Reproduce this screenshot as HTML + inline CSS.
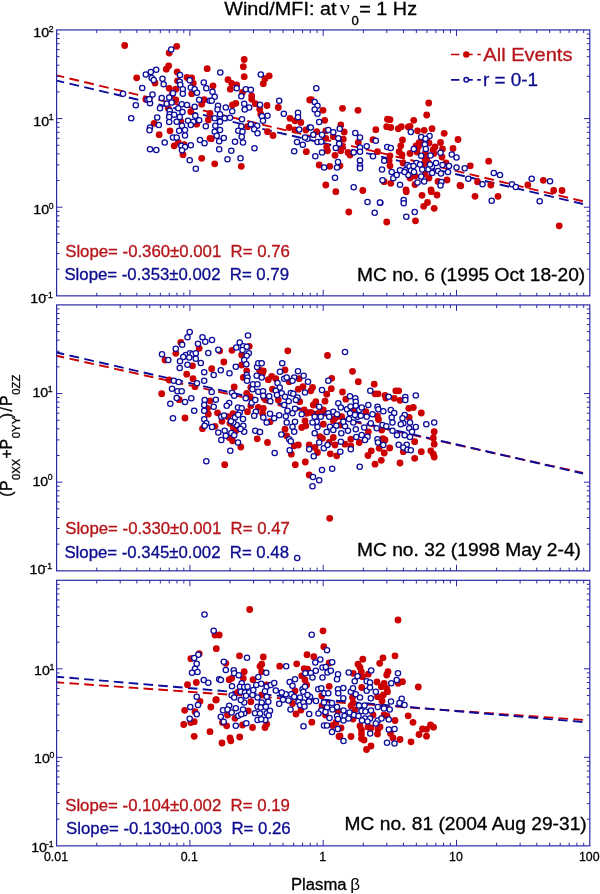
<!DOCTYPE html><html><head><meta charset="utf-8"><style>html,body{margin:0;padding:0;background:#fff}svg{display:block;will-change:transform}text{font-family:"Liberation Sans",sans-serif}</style></head><body>
<svg width="600" height="894" viewBox="0 0 600 894">
<rect width="600" height="894" fill="#fff"/>
<path d="M56.6 75.4L583 201.3" stroke="#cc0000" stroke-width="1.9" stroke-dasharray="9.8 5.44" stroke-dashoffset="2.06" fill="none"/>
<path d="M56.6 80.6L583 204.0" stroke="#0c0c9c" stroke-width="1.9" stroke-dasharray="9.8 5.44" stroke-dashoffset="2.06" fill="none"/>
<g fill="#cc0000"><circle cx="124.7" cy="45.5" r="3.4"/><circle cx="176.7" cy="46.3" r="3.4"/><circle cx="169.2" cy="53.0" r="3.4"/><circle cx="168.7" cy="65.8" r="3.4"/><circle cx="166.3" cy="69.2" r="3.4"/><circle cx="207.2" cy="68.7" r="3.4"/><circle cx="136.7" cy="77.8" r="3.4"/><circle cx="177.2" cy="72.0" r="3.4"/><circle cx="187.0" cy="77.5" r="3.4"/><circle cx="191.7" cy="78.0" r="3.4"/><circle cx="155.0" cy="83.0" r="3.4"/><circle cx="169.2" cy="88.3" r="3.4"/><circle cx="177.5" cy="80.8" r="3.4"/><circle cx="175.8" cy="89.2" r="3.4"/><circle cx="191.7" cy="93.7" r="3.4"/><circle cx="193.3" cy="83.3" r="3.4"/><circle cx="172.0" cy="95.0" r="3.4"/><circle cx="204.2" cy="99.7" r="3.4"/><circle cx="201.7" cy="104.2" r="3.4"/><circle cx="175.8" cy="100.0" r="3.4"/><circle cx="190.8" cy="111.7" r="3.4"/><circle cx="154.2" cy="123.3" r="3.4"/><circle cx="170.0" cy="130.8" r="3.4"/><circle cx="208.3" cy="120.0" r="3.4"/><circle cx="196.7" cy="124.2" r="3.4"/><circle cx="159.2" cy="134.7" r="3.4"/><circle cx="168.3" cy="108.3" r="3.4"/><circle cx="145.8" cy="99.2" r="3.4"/><circle cx="180.8" cy="121.7" r="3.4"/><circle cx="244.2" cy="59.5" r="3.4"/><circle cx="243.3" cy="66.7" r="3.4"/><circle cx="244.2" cy="76.7" r="3.4"/><circle cx="269.2" cy="75.8" r="3.4"/><circle cx="265.0" cy="78.7" r="3.4"/><circle cx="263.3" cy="83.7" r="3.4"/><circle cx="228.0" cy="79.7" r="3.4"/><circle cx="231.7" cy="83.3" r="3.4"/><circle cx="236.7" cy="85.0" r="3.4"/><circle cx="230.3" cy="89.2" r="3.4"/><circle cx="213.0" cy="85.8" r="3.4"/><circle cx="251.7" cy="95.8" r="3.4"/><circle cx="242.5" cy="92.5" r="3.4"/><circle cx="251.7" cy="99.2" r="3.4"/><circle cx="255.3" cy="103.7" r="3.4"/><circle cx="235.8" cy="103.3" r="3.4"/><circle cx="232.5" cy="105.0" r="3.4"/><circle cx="267.0" cy="105.5" r="3.4"/><circle cx="278.3" cy="107.5" r="3.4"/><circle cx="259.7" cy="109.2" r="3.4"/><circle cx="260.8" cy="114.2" r="3.4"/><circle cx="309.7" cy="100.0" r="3.4"/><circle cx="290.0" cy="118.3" r="3.4"/><circle cx="295.0" cy="120.8" r="3.4"/><circle cx="300.8" cy="122.5" r="3.4"/><circle cx="289.2" cy="127.5" r="3.4"/><circle cx="305.8" cy="130.0" r="3.4"/><circle cx="247.5" cy="126.7" r="3.4"/><circle cx="267.5" cy="131.7" r="3.4"/><circle cx="210.0" cy="113.3" r="3.4"/><circle cx="295.0" cy="130.0" r="3.4"/><circle cx="311.3" cy="99.7" r="3.4"/><circle cx="323.0" cy="110.3" r="3.4"/><circle cx="342.5" cy="108.3" r="3.4"/><circle cx="358.0" cy="110.3" r="3.4"/><circle cx="324.7" cy="120.3" r="3.4"/><circle cx="387.5" cy="119.2" r="3.4"/><circle cx="390.0" cy="119.7" r="3.4"/><circle cx="340.8" cy="125.0" r="3.4"/><circle cx="386.7" cy="126.7" r="3.4"/><circle cx="390.8" cy="127.5" r="3.4"/><circle cx="401.3" cy="126.7" r="3.4"/><circle cx="398.3" cy="128.7" r="3.4"/><circle cx="408.3" cy="127.0" r="3.4"/><circle cx="375.8" cy="129.7" r="3.4"/><circle cx="344.2" cy="132.0" r="3.4"/><circle cx="316.7" cy="131.7" r="3.4"/><circle cx="325.8" cy="130.8" r="3.4"/><circle cx="428.7" cy="103.0" r="3.4"/><circle cx="426.7" cy="115.0" r="3.4"/><circle cx="413.7" cy="120.3" r="3.4"/><circle cx="432.0" cy="128.7" r="3.4"/><circle cx="417.5" cy="130.8" r="3.4"/><circle cx="424.2" cy="130.3" r="3.4"/><circle cx="410.0" cy="126.3" r="3.4"/><circle cx="444.2" cy="133.3" r="3.4"/><circle cx="174.2" cy="145.8" r="3.4"/><circle cx="178.3" cy="142.5" r="3.4"/><circle cx="184.2" cy="144.7" r="3.4"/><circle cx="183.0" cy="154.7" r="3.4"/><circle cx="201.7" cy="158.3" r="3.4"/><circle cx="210.0" cy="138.3" r="3.4"/><circle cx="211.3" cy="138.7" r="3.4"/><circle cx="214.7" cy="163.8" r="3.4"/><circle cx="241.3" cy="166.3" r="3.4"/><circle cx="273.0" cy="135.5" r="3.4"/><circle cx="306.3" cy="151.7" r="3.4"/><circle cx="325.8" cy="138.3" r="3.4"/><circle cx="343.3" cy="139.2" r="3.4"/><circle cx="326.7" cy="147.0" r="3.4"/><circle cx="327.5" cy="150.8" r="3.4"/><circle cx="342.5" cy="147.0" r="3.4"/><circle cx="340.8" cy="150.8" r="3.4"/><circle cx="335.0" cy="155.3" r="3.4"/><circle cx="348.0" cy="152.5" r="3.4"/><circle cx="350.0" cy="155.0" r="3.4"/><circle cx="358.3" cy="142.5" r="3.4"/><circle cx="373.0" cy="139.7" r="3.4"/><circle cx="377.5" cy="151.7" r="3.4"/><circle cx="402.5" cy="140.0" r="3.4"/><circle cx="400.8" cy="145.8" r="3.4"/><circle cx="399.2" cy="151.7" r="3.4"/><circle cx="390.0" cy="155.8" r="3.4"/><circle cx="389.2" cy="160.8" r="3.4"/><circle cx="390.0" cy="165.8" r="3.4"/><circle cx="319.2" cy="165.0" r="3.4"/><circle cx="329.7" cy="166.3" r="3.4"/><circle cx="340.0" cy="165.8" r="3.4"/><circle cx="325.8" cy="185.0" r="3.4"/><circle cx="335.8" cy="191.7" r="3.4"/><circle cx="362.8" cy="190.5" r="3.4"/><circle cx="348.8" cy="212.0" r="3.4"/><circle cx="386.7" cy="222.0" r="3.4"/><circle cx="406.3" cy="191.7" r="3.4"/><circle cx="390.8" cy="183.3" r="3.4"/><circle cx="384.2" cy="181.7" r="3.4"/><circle cx="333.3" cy="136.7" r="3.4"/><circle cx="410.0" cy="153.5" r="3.4"/><circle cx="419.0" cy="143.0" r="3.4"/><circle cx="429.0" cy="143.0" r="3.4"/><circle cx="435.0" cy="147.0" r="3.4"/><circle cx="433.0" cy="150.0" r="3.4"/><circle cx="440.5" cy="142.5" r="3.4"/><circle cx="442.5" cy="149.0" r="3.4"/><circle cx="442.0" cy="157.0" r="3.4"/><circle cx="453.0" cy="148.5" r="3.4"/><circle cx="458.0" cy="139.5" r="3.4"/><circle cx="426.5" cy="160.0" r="3.4"/><circle cx="425.0" cy="174.0" r="3.4"/><circle cx="429.0" cy="178.0" r="3.4"/><circle cx="415.0" cy="176.0" r="3.4"/><circle cx="447.0" cy="180.0" r="3.4"/><circle cx="438.0" cy="181.5" r="3.4"/><circle cx="460.0" cy="185.5" r="3.4"/><circle cx="415.0" cy="184.5" r="3.4"/><circle cx="406.0" cy="190.0" r="3.4"/><circle cx="431.0" cy="190.0" r="3.4"/><circle cx="446.0" cy="163.0" r="3.4"/><circle cx="403.0" cy="163.0" r="3.4"/><circle cx="416.0" cy="146.0" r="3.4"/><circle cx="402.0" cy="155.0" r="3.4"/><circle cx="410.0" cy="178.0" r="3.4"/><circle cx="470.3" cy="165.8" r="3.4"/><circle cx="488.7" cy="161.2" r="3.4"/><circle cx="460.8" cy="185.8" r="3.4"/><circle cx="477.5" cy="181.7" r="3.4"/><circle cx="490.8" cy="185.0" r="3.4"/><circle cx="475.0" cy="196.3" r="3.4"/><circle cx="498.0" cy="196.3" r="3.4"/><circle cx="422.0" cy="195.3" r="3.4"/><circle cx="431.3" cy="191.7" r="3.4"/><circle cx="437.0" cy="195.0" r="3.4"/><circle cx="427.5" cy="202.5" r="3.4"/><circle cx="423.7" cy="206.3" r="3.4"/><circle cx="434.2" cy="208.3" r="3.4"/><circle cx="415.5" cy="220.8" r="3.4"/><circle cx="527.8" cy="185.0" r="3.4"/><circle cx="543.3" cy="180.3" r="3.4"/><circle cx="553.7" cy="190.5" r="3.4"/><circle cx="562.0" cy="190.5" r="3.4"/><circle cx="559.2" cy="225.8" r="3.4"/><circle cx="420.5" cy="142.0" r="3.4"/><circle cx="418.5" cy="146.5" r="3.4"/><circle cx="426.5" cy="140.0" r="3.4"/><circle cx="417.0" cy="152.0" r="3.4"/><circle cx="425.5" cy="153.0" r="3.4"/><circle cx="425.0" cy="159.0" r="3.4"/><circle cx="428.5" cy="163.0" r="3.4"/><circle cx="434.0" cy="153.5" r="3.4"/><circle cx="423.0" cy="164.5" r="3.4"/></g>
<g fill="#fff" stroke="#0c0c9c" stroke-width="1.3"><circle cx="171.2" cy="49.5" r="2.65"/><circle cx="156.2" cy="69.7" r="2.65"/><circle cx="150.8" cy="72.0" r="2.65"/><circle cx="145.8" cy="74.5" r="2.65"/><circle cx="151.7" cy="78.0" r="2.65"/><circle cx="153.7" cy="80.0" r="2.65"/><circle cx="162.5" cy="78.7" r="2.65"/><circle cx="163.7" cy="84.2" r="2.65"/><circle cx="180.0" cy="75.0" r="2.65"/><circle cx="179.7" cy="81.7" r="2.65"/><circle cx="180.3" cy="84.7" r="2.65"/><circle cx="189.7" cy="80.3" r="2.65"/><circle cx="203.8" cy="82.5" r="2.65"/><circle cx="206.3" cy="88.3" r="2.65"/><circle cx="142.2" cy="88.0" r="2.65"/><circle cx="190.8" cy="87.5" r="2.65"/><circle cx="194.7" cy="89.2" r="2.65"/><circle cx="197.0" cy="92.8" r="2.65"/><circle cx="182.8" cy="89.2" r="2.65"/><circle cx="182.8" cy="93.7" r="2.65"/><circle cx="123.0" cy="93.7" r="2.65"/><circle cx="152.5" cy="94.5" r="2.65"/><circle cx="173.0" cy="93.3" r="2.65"/><circle cx="169.2" cy="97.5" r="2.65"/><circle cx="161.7" cy="98.0" r="2.65"/><circle cx="147.5" cy="99.7" r="2.65"/><circle cx="150.0" cy="103.3" r="2.65"/><circle cx="166.7" cy="103.7" r="2.65"/><circle cx="171.7" cy="102.5" r="2.65"/><circle cx="199.2" cy="99.7" r="2.65"/><circle cx="209.7" cy="100.8" r="2.65"/><circle cx="135.8" cy="105.3" r="2.65"/><circle cx="181.7" cy="104.2" r="2.65"/><circle cx="187.0" cy="105.0" r="2.65"/><circle cx="160.0" cy="108.3" r="2.65"/><circle cx="194.7" cy="106.7" r="2.65"/><circle cx="178.3" cy="108.3" r="2.65"/><circle cx="182.5" cy="112.0" r="2.65"/><circle cx="169.7" cy="110.8" r="2.65"/><circle cx="169.7" cy="114.2" r="2.65"/><circle cx="174.2" cy="114.7" r="2.65"/><circle cx="157.2" cy="117.5" r="2.65"/><circle cx="131.2" cy="118.3" r="2.65"/><circle cx="169.2" cy="117.0" r="2.65"/><circle cx="179.7" cy="117.0" r="2.65"/><circle cx="195.3" cy="115.8" r="2.65"/><circle cx="188.0" cy="120.8" r="2.65"/><circle cx="176.7" cy="121.7" r="2.65"/><circle cx="169.2" cy="122.0" r="2.65"/><circle cx="199.2" cy="120.3" r="2.65"/><circle cx="193.3" cy="121.7" r="2.65"/><circle cx="158.8" cy="125.0" r="2.65"/><circle cx="150.0" cy="127.5" r="2.65"/><circle cx="149.5" cy="130.3" r="2.65"/><circle cx="182.0" cy="125.8" r="2.65"/><circle cx="179.2" cy="130.8" r="2.65"/><circle cx="190.8" cy="125.0" r="2.65"/><circle cx="185.0" cy="130.0" r="2.65"/><circle cx="205.8" cy="126.3" r="2.65"/><circle cx="220.3" cy="72.5" r="2.65"/><circle cx="260.8" cy="74.5" r="2.65"/><circle cx="236.7" cy="88.3" r="2.65"/><circle cx="245.8" cy="89.2" r="2.65"/><circle cx="250.8" cy="89.7" r="2.65"/><circle cx="212.5" cy="91.7" r="2.65"/><circle cx="214.7" cy="96.7" r="2.65"/><circle cx="241.3" cy="96.3" r="2.65"/><circle cx="211.7" cy="100.8" r="2.65"/><circle cx="279.2" cy="100.8" r="2.65"/><circle cx="244.2" cy="103.7" r="2.65"/><circle cx="260.0" cy="104.7" r="2.65"/><circle cx="218.0" cy="105.8" r="2.65"/><circle cx="225.8" cy="107.5" r="2.65"/><circle cx="217.5" cy="109.5" r="2.65"/><circle cx="249.2" cy="107.5" r="2.65"/><circle cx="244.7" cy="109.5" r="2.65"/><circle cx="232.2" cy="111.3" r="2.65"/><circle cx="220.0" cy="114.2" r="2.65"/><circle cx="283.8" cy="113.7" r="2.65"/><circle cx="298.0" cy="112.8" r="2.65"/><circle cx="267.5" cy="115.8" r="2.65"/><circle cx="262.0" cy="116.2" r="2.65"/><circle cx="298.0" cy="117.2" r="2.65"/><circle cx="214.7" cy="118.3" r="2.65"/><circle cx="224.7" cy="118.3" r="2.65"/><circle cx="230.0" cy="117.8" r="2.65"/><circle cx="242.0" cy="119.2" r="2.65"/><circle cx="263.0" cy="120.8" r="2.65"/><circle cx="220.0" cy="121.7" r="2.65"/><circle cx="250.8" cy="124.2" r="2.65"/><circle cx="257.2" cy="125.8" r="2.65"/><circle cx="215.3" cy="125.8" r="2.65"/><circle cx="241.3" cy="126.3" r="2.65"/><circle cx="309.7" cy="127.5" r="2.65"/><circle cx="220.0" cy="130.0" r="2.65"/><circle cx="238.3" cy="130.8" r="2.65"/><circle cx="242.5" cy="131.7" r="2.65"/><circle cx="254.2" cy="129.2" r="2.65"/><circle cx="299.2" cy="129.5" r="2.65"/><circle cx="214.7" cy="131.7" r="2.65"/><circle cx="257.5" cy="133.3" r="2.65"/><circle cx="316.3" cy="88.3" r="2.65"/><circle cx="314.7" cy="102.0" r="2.65"/><circle cx="317.5" cy="105.8" r="2.65"/><circle cx="314.7" cy="109.5" r="2.65"/><circle cx="317.5" cy="113.8" r="2.65"/><circle cx="319.2" cy="122.0" r="2.65"/><circle cx="310.8" cy="127.5" r="2.65"/><circle cx="328.3" cy="130.0" r="2.65"/><circle cx="333.3" cy="132.2" r="2.65"/><circle cx="339.7" cy="128.7" r="2.65"/><circle cx="355.3" cy="133.0" r="2.65"/><circle cx="313.3" cy="134.7" r="2.65"/><circle cx="322.0" cy="134.7" r="2.65"/><circle cx="410.8" cy="132.0" r="2.65"/><circle cx="173.0" cy="137.5" r="2.65"/><circle cx="176.7" cy="137.5" r="2.65"/><circle cx="185.0" cy="135.5" r="2.65"/><circle cx="164.7" cy="142.5" r="2.65"/><circle cx="150.0" cy="149.2" r="2.65"/><circle cx="156.3" cy="150.0" r="2.65"/><circle cx="181.3" cy="145.8" r="2.65"/><circle cx="185.0" cy="147.0" r="2.65"/><circle cx="182.0" cy="150.3" r="2.65"/><circle cx="190.8" cy="145.3" r="2.65"/><circle cx="200.0" cy="140.0" r="2.65"/><circle cx="204.5" cy="143.3" r="2.65"/><circle cx="189.7" cy="160.3" r="2.65"/><circle cx="195.8" cy="168.7" r="2.65"/><circle cx="216.7" cy="135.8" r="2.65"/><circle cx="223.8" cy="138.0" r="2.65"/><circle cx="219.2" cy="141.3" r="2.65"/><circle cx="219.2" cy="149.2" r="2.65"/><circle cx="235.0" cy="141.7" r="2.65"/><circle cx="241.7" cy="136.7" r="2.65"/><circle cx="243.0" cy="142.5" r="2.65"/><circle cx="231.3" cy="150.8" r="2.65"/><circle cx="227.5" cy="159.2" r="2.65"/><circle cx="240.5" cy="158.3" r="2.65"/><circle cx="254.5" cy="148.3" r="2.65"/><circle cx="294.2" cy="151.2" r="2.65"/><circle cx="297.0" cy="142.0" r="2.65"/><circle cx="302.8" cy="144.7" r="2.65"/><circle cx="307.5" cy="138.7" r="2.65"/><circle cx="305.0" cy="137.5" r="2.65"/><circle cx="317.5" cy="142.0" r="2.65"/><circle cx="321.3" cy="141.7" r="2.65"/><circle cx="338.3" cy="138.3" r="2.65"/><circle cx="339.2" cy="143.7" r="2.65"/><circle cx="335.8" cy="148.0" r="2.65"/><circle cx="322.0" cy="152.5" r="2.65"/><circle cx="315.3" cy="156.3" r="2.65"/><circle cx="360.0" cy="137.5" r="2.65"/><circle cx="366.7" cy="146.3" r="2.65"/><circle cx="360.0" cy="147.5" r="2.65"/><circle cx="353.7" cy="152.5" r="2.65"/><circle cx="360.0" cy="151.7" r="2.65"/><circle cx="373.0" cy="156.3" r="2.65"/><circle cx="375.8" cy="140.8" r="2.65"/><circle cx="387.2" cy="147.0" r="2.65"/><circle cx="390.8" cy="148.0" r="2.65"/><circle cx="338.0" cy="162.0" r="2.65"/><circle cx="337.0" cy="167.5" r="2.65"/><circle cx="324.2" cy="167.5" r="2.65"/><circle cx="360.0" cy="160.5" r="2.65"/><circle cx="360.0" cy="165.8" r="2.65"/><circle cx="360.0" cy="168.3" r="2.65"/><circle cx="384.2" cy="160.8" r="2.65"/><circle cx="382.0" cy="169.5" r="2.65"/><circle cx="335.0" cy="177.8" r="2.65"/><circle cx="353.7" cy="187.2" r="2.65"/><circle cx="367.5" cy="202.0" r="2.65"/><circle cx="380.3" cy="202.8" r="2.65"/><circle cx="374.7" cy="212.8" r="2.65"/><circle cx="382.5" cy="180.3" r="2.65"/><circle cx="391.7" cy="172.0" r="2.65"/><circle cx="393.3" cy="178.3" r="2.65"/><circle cx="396.7" cy="175.0" r="2.65"/><circle cx="400.0" cy="170.3" r="2.65"/><circle cx="400.0" cy="184.7" r="2.65"/><circle cx="405.8" cy="170.0" r="2.65"/><circle cx="407.5" cy="165.0" r="2.65"/><circle cx="408.3" cy="175.0" r="2.65"/><circle cx="403.7" cy="200.0" r="2.65"/><circle cx="403.7" cy="203.3" r="2.65"/><circle cx="406.3" cy="216.7" r="2.65"/><circle cx="421.2" cy="137.0" r="2.65"/><circle cx="429.5" cy="136.0" r="2.65"/><circle cx="424.8" cy="144.5" r="2.65"/><circle cx="425.8" cy="149.0" r="2.65"/><circle cx="413.8" cy="149.0" r="2.65"/><circle cx="421.2" cy="155.7" r="2.65"/><circle cx="430.5" cy="155.5" r="2.65"/><circle cx="440.5" cy="152.8" r="2.65"/><circle cx="451.8" cy="154.5" r="2.65"/><circle cx="456.5" cy="157.5" r="2.65"/><circle cx="416.5" cy="163.0" r="2.65"/><circle cx="409.5" cy="166.5" r="2.65"/><circle cx="411.0" cy="170.5" r="2.65"/><circle cx="414.0" cy="172.0" r="2.65"/><circle cx="422.2" cy="169.5" r="2.65"/><circle cx="428.5" cy="169.3" r="2.65"/><circle cx="432.0" cy="166.5" r="2.65"/><circle cx="436.0" cy="163.0" r="2.65"/><circle cx="442.5" cy="165.0" r="2.65"/><circle cx="449.0" cy="166.0" r="2.65"/><circle cx="438.0" cy="171.0" r="2.65"/><circle cx="432.2" cy="173.0" r="2.65"/><circle cx="441.0" cy="173.5" r="2.65"/><circle cx="448.0" cy="172.0" r="2.65"/><circle cx="421.2" cy="176.5" r="2.65"/><circle cx="417.5" cy="182.5" r="2.65"/><circle cx="424.2" cy="181.5" r="2.65"/><circle cx="441.5" cy="182.0" r="2.65"/><circle cx="440.5" cy="185.5" r="2.65"/><circle cx="456.5" cy="167.5" r="2.65"/><circle cx="420.0" cy="164.5" r="2.65"/><circle cx="464.7" cy="168.3" r="2.65"/><circle cx="468.3" cy="178.7" r="2.65"/><circle cx="482.5" cy="184.2" r="2.65"/><circle cx="493.8" cy="173.0" r="2.65"/><circle cx="500.0" cy="175.0" r="2.65"/><circle cx="491.7" cy="200.8" r="2.65"/><circle cx="414.7" cy="212.0" r="2.65"/><circle cx="512.0" cy="184.2" r="2.65"/><circle cx="515.8" cy="187.0" r="2.65"/><circle cx="531.7" cy="178.8" r="2.65"/><circle cx="550.0" cy="181.3" r="2.65"/><circle cx="539.7" cy="201.2" r="2.65"/><circle cx="149.3" cy="99.3" r="2.65"/><circle cx="425.5" cy="138.8" r="2.65"/><circle cx="430.0" cy="164.5" r="2.65"/><circle cx="404.5" cy="172.0" r="2.65"/><circle cx="413.5" cy="166.0" r="2.65"/><circle cx="380.0" cy="202.5" r="2.65"/></g>
<path d="M56.6 355.8L583 472.9" stroke="#cc0000" stroke-width="1.9" stroke-dasharray="9.8 5.44" stroke-dashoffset="2.06" fill="none"/>
<path d="M56.6 352.5L583 473.5" stroke="#0c0c9c" stroke-width="1.9" stroke-dasharray="9.8 5.44" stroke-dashoffset="2.06" fill="none"/>
<g fill="#cc0000"><circle cx="180.8" cy="342.5" r="3.4"/><circle cx="199.2" cy="348.3" r="3.4"/><circle cx="175.8" cy="353.3" r="3.4"/><circle cx="165.0" cy="360.0" r="3.4"/><circle cx="219.7" cy="350.8" r="3.4"/><circle cx="232.0" cy="350.3" r="3.4"/><circle cx="249.2" cy="346.3" r="3.4"/><circle cx="241.7" cy="355.0" r="3.4"/><circle cx="223.8" cy="362.0" r="3.4"/><circle cx="192.5" cy="365.8" r="3.4"/><circle cx="211.7" cy="368.7" r="3.4"/><circle cx="186.7" cy="374.2" r="3.4"/><circle cx="193.0" cy="378.7" r="3.4"/><circle cx="169.2" cy="380.0" r="3.4"/><circle cx="195.0" cy="386.7" r="3.4"/><circle cx="234.2" cy="387.0" r="3.4"/><circle cx="161.7" cy="393.7" r="3.4"/><circle cx="210.0" cy="400.8" r="3.4"/><circle cx="179.2" cy="399.7" r="3.4"/><circle cx="207.5" cy="408.3" r="3.4"/><circle cx="208.3" cy="414.2" r="3.4"/><circle cx="217.5" cy="412.8" r="3.4"/><circle cx="185.0" cy="418.0" r="3.4"/><circle cx="247.5" cy="411.7" r="3.4"/><circle cx="250.8" cy="405.8" r="3.4"/><circle cx="258.3" cy="407.5" r="3.4"/><circle cx="246.7" cy="393.3" r="3.4"/><circle cx="250.0" cy="396.7" r="3.4"/><circle cx="243.3" cy="377.5" r="3.4"/><circle cx="246.7" cy="370.8" r="3.4"/><circle cx="241.7" cy="365.0" r="3.4"/><circle cx="228.0" cy="416.7" r="3.4"/><circle cx="233.0" cy="413.7" r="3.4"/><circle cx="259.5" cy="370.0" r="3.4"/><circle cx="250.8" cy="387.5" r="3.4"/><circle cx="287.8" cy="350.8" r="3.4"/><circle cx="327.5" cy="355.5" r="3.4"/><circle cx="352.5" cy="371.3" r="3.4"/><circle cx="358.3" cy="381.7" r="3.4"/><circle cx="285.0" cy="370.0" r="3.4"/><circle cx="263.3" cy="370.8" r="3.4"/><circle cx="262.5" cy="373.3" r="3.4"/><circle cx="271.7" cy="376.3" r="3.4"/><circle cx="268.3" cy="379.7" r="3.4"/><circle cx="275.8" cy="378.7" r="3.4"/><circle cx="299.2" cy="378.7" r="3.4"/><circle cx="289.2" cy="381.7" r="3.4"/><circle cx="331.7" cy="378.3" r="3.4"/><circle cx="303.0" cy="386.7" r="3.4"/><circle cx="298.3" cy="389.2" r="3.4"/><circle cx="272.5" cy="389.2" r="3.4"/><circle cx="312.5" cy="387.5" r="3.4"/><circle cx="310.8" cy="390.8" r="3.4"/><circle cx="331.3" cy="388.7" r="3.4"/><circle cx="326.7" cy="394.2" r="3.4"/><circle cx="342.5" cy="392.0" r="3.4"/><circle cx="325.0" cy="401.2" r="3.4"/><circle cx="315.8" cy="401.7" r="3.4"/><circle cx="313.3" cy="405.0" r="3.4"/><circle cx="345.8" cy="399.2" r="3.4"/><circle cx="264.2" cy="398.3" r="3.4"/><circle cx="278.3" cy="400.0" r="3.4"/><circle cx="299.7" cy="401.7" r="3.4"/><circle cx="263.3" cy="408.3" r="3.4"/><circle cx="262.5" cy="413.3" r="3.4"/><circle cx="304.2" cy="410.0" r="3.4"/><circle cx="306.7" cy="413.3" r="3.4"/><circle cx="310.8" cy="412.5" r="3.4"/><circle cx="318.3" cy="413.3" r="3.4"/><circle cx="323.3" cy="410.0" r="3.4"/><circle cx="341.7" cy="416.7" r="3.4"/><circle cx="352.5" cy="410.8" r="3.4"/><circle cx="335.0" cy="418.3" r="3.4"/><circle cx="374.2" cy="384.2" r="3.4"/><circle cx="395.8" cy="390.8" r="3.4"/><circle cx="398.7" cy="390.8" r="3.4"/><circle cx="375.0" cy="393.8" r="3.4"/><circle cx="378.0" cy="393.8" r="3.4"/><circle cx="385.0" cy="395.3" r="3.4"/><circle cx="385.8" cy="398.0" r="3.4"/><circle cx="394.2" cy="398.3" r="3.4"/><circle cx="400.0" cy="400.3" r="3.4"/><circle cx="408.8" cy="408.3" r="3.4"/><circle cx="413.3" cy="407.5" r="3.4"/><circle cx="421.3" cy="413.0" r="3.4"/><circle cx="365.8" cy="411.7" r="3.4"/><circle cx="377.5" cy="415.8" r="3.4"/><circle cx="409.2" cy="417.5" r="3.4"/><circle cx="202.5" cy="428.7" r="3.4"/><circle cx="215.0" cy="426.3" r="3.4"/><circle cx="222.0" cy="421.3" r="3.4"/><circle cx="230.0" cy="423.3" r="3.4"/><circle cx="233.3" cy="427.5" r="3.4"/><circle cx="235.8" cy="430.8" r="3.4"/><circle cx="229.2" cy="437.5" r="3.4"/><circle cx="232.5" cy="440.8" r="3.4"/><circle cx="240.8" cy="447.0" r="3.4"/><circle cx="257.2" cy="438.8" r="3.4"/><circle cx="224.7" cy="464.7" r="3.4"/><circle cx="267.5" cy="442.5" r="3.4"/><circle cx="285.0" cy="429.2" r="3.4"/><circle cx="286.7" cy="435.8" r="3.4"/><circle cx="301.7" cy="427.5" r="3.4"/><circle cx="305.8" cy="425.8" r="3.4"/><circle cx="294.2" cy="445.8" r="3.4"/><circle cx="298.3" cy="445.0" r="3.4"/><circle cx="291.3" cy="454.2" r="3.4"/><circle cx="295.3" cy="464.7" r="3.4"/><circle cx="305.3" cy="462.0" r="3.4"/><circle cx="309.2" cy="445.0" r="3.4"/><circle cx="315.0" cy="447.5" r="3.4"/><circle cx="317.5" cy="452.5" r="3.4"/><circle cx="320.0" cy="436.7" r="3.4"/><circle cx="322.5" cy="438.3" r="3.4"/><circle cx="333.3" cy="437.5" r="3.4"/><circle cx="329.2" cy="442.5" r="3.4"/><circle cx="335.0" cy="445.0" r="3.4"/><circle cx="330.3" cy="453.8" r="3.4"/><circle cx="336.7" cy="455.8" r="3.4"/><circle cx="345.0" cy="444.2" r="3.4"/><circle cx="350.8" cy="439.2" r="3.4"/><circle cx="350.8" cy="445.8" r="3.4"/><circle cx="359.2" cy="442.5" r="3.4"/><circle cx="309.2" cy="475.0" r="3.4"/><circle cx="329.7" cy="518.3" r="3.4"/><circle cx="323.3" cy="424.2" r="3.4"/><circle cx="333.3" cy="420.8" r="3.4"/><circle cx="270.0" cy="421.7" r="3.4"/><circle cx="305.0" cy="420.8" r="3.4"/><circle cx="368.3" cy="432.0" r="3.4"/><circle cx="381.7" cy="430.0" r="3.4"/><circle cx="383.0" cy="438.7" r="3.4"/><circle cx="385.0" cy="440.0" r="3.4"/><circle cx="389.7" cy="448.0" r="3.4"/><circle cx="379.2" cy="448.3" r="3.4"/><circle cx="384.2" cy="453.0" r="3.4"/><circle cx="371.3" cy="450.8" r="3.4"/><circle cx="368.0" cy="455.5" r="3.4"/><circle cx="381.3" cy="460.3" r="3.4"/><circle cx="375.0" cy="464.2" r="3.4"/><circle cx="400.0" cy="463.0" r="3.4"/><circle cx="403.3" cy="451.7" r="3.4"/><circle cx="414.7" cy="441.7" r="3.4"/><circle cx="414.7" cy="458.3" r="3.4"/><circle cx="421.3" cy="451.7" r="3.4"/><circle cx="434.2" cy="431.7" r="3.4"/><circle cx="433.3" cy="438.0" r="3.4"/><circle cx="434.2" cy="444.2" r="3.4"/><circle cx="430.8" cy="450.8" r="3.4"/><circle cx="433.3" cy="454.2" r="3.4"/><circle cx="434.2" cy="457.0" r="3.4"/><circle cx="378.5" cy="419.5" r="3.4"/><circle cx="356.5" cy="411.0" r="3.4"/><circle cx="340.5" cy="425.0" r="3.4"/></g>
<g fill="#fff" stroke="#0c0c9c" stroke-width="1.3"><circle cx="189.7" cy="332.0" r="2.65"/><circle cx="187.5" cy="337.2" r="2.65"/><circle cx="202.5" cy="337.2" r="2.65"/><circle cx="205.3" cy="341.7" r="2.65"/><circle cx="212.0" cy="340.0" r="2.65"/><circle cx="198.0" cy="343.8" r="2.65"/><circle cx="182.2" cy="344.7" r="2.65"/><circle cx="175.8" cy="348.7" r="2.65"/><circle cx="162.0" cy="354.2" r="2.65"/><circle cx="168.3" cy="360.0" r="2.65"/><circle cx="208.3" cy="353.0" r="2.65"/><circle cx="218.3" cy="349.7" r="2.65"/><circle cx="185.8" cy="355.0" r="2.65"/><circle cx="190.0" cy="353.3" r="2.65"/><circle cx="192.5" cy="354.2" r="2.65"/><circle cx="195.8" cy="353.3" r="2.65"/><circle cx="183.3" cy="357.0" r="2.65"/><circle cx="189.2" cy="357.5" r="2.65"/><circle cx="195.8" cy="358.7" r="2.65"/><circle cx="180.0" cy="361.3" r="2.65"/><circle cx="187.5" cy="364.7" r="2.65"/><circle cx="200.8" cy="363.0" r="2.65"/><circle cx="179.7" cy="368.0" r="2.65"/><circle cx="204.2" cy="372.2" r="2.65"/><circle cx="213.7" cy="375.0" r="2.65"/><circle cx="220.8" cy="370.3" r="2.65"/><circle cx="229.5" cy="373.3" r="2.65"/><circle cx="235.8" cy="366.7" r="2.65"/><circle cx="173.8" cy="380.8" r="2.65"/><circle cx="178.7" cy="382.0" r="2.65"/><circle cx="204.2" cy="380.8" r="2.65"/><circle cx="197.0" cy="383.3" r="2.65"/><circle cx="172.0" cy="388.8" r="2.65"/><circle cx="177.5" cy="391.3" r="2.65"/><circle cx="181.7" cy="391.3" r="2.65"/><circle cx="211.7" cy="392.0" r="2.65"/><circle cx="176.7" cy="398.0" r="2.65"/><circle cx="191.3" cy="398.3" r="2.65"/><circle cx="185.0" cy="402.0" r="2.65"/><circle cx="170.3" cy="403.8" r="2.65"/><circle cx="204.7" cy="400.0" r="2.65"/><circle cx="215.8" cy="399.7" r="2.65"/><circle cx="204.2" cy="405.0" r="2.65"/><circle cx="213.7" cy="406.7" r="2.65"/><circle cx="194.2" cy="410.8" r="2.65"/><circle cx="204.2" cy="410.8" r="2.65"/><circle cx="173.0" cy="418.3" r="2.65"/><circle cx="248.0" cy="335.5" r="2.65"/><circle cx="239.7" cy="342.5" r="2.65"/><circle cx="236.3" cy="347.5" r="2.65"/><circle cx="243.3" cy="346.3" r="2.65"/><circle cx="246.7" cy="346.7" r="2.65"/><circle cx="242.5" cy="350.0" r="2.65"/><circle cx="248.8" cy="353.3" r="2.65"/><circle cx="246.7" cy="355.8" r="2.65"/><circle cx="244.2" cy="360.0" r="2.65"/><circle cx="246.3" cy="364.2" r="2.65"/><circle cx="257.0" cy="367.0" r="2.65"/><circle cx="258.3" cy="363.3" r="2.65"/><circle cx="246.7" cy="375.0" r="2.65"/><circle cx="247.5" cy="377.5" r="2.65"/><circle cx="247.0" cy="380.8" r="2.65"/><circle cx="256.7" cy="375.8" r="2.65"/><circle cx="253.0" cy="384.2" r="2.65"/><circle cx="257.5" cy="384.2" r="2.65"/><circle cx="252.5" cy="389.2" r="2.65"/><circle cx="258.3" cy="391.7" r="2.65"/><circle cx="232.0" cy="392.8" r="2.65"/><circle cx="234.2" cy="395.8" r="2.65"/><circle cx="245.8" cy="398.3" r="2.65"/><circle cx="251.7" cy="402.8" r="2.65"/><circle cx="255.3" cy="400.0" r="2.65"/><circle cx="229.2" cy="403.0" r="2.65"/><circle cx="226.7" cy="405.8" r="2.65"/><circle cx="238.0" cy="407.5" r="2.65"/><circle cx="241.7" cy="408.3" r="2.65"/><circle cx="239.7" cy="412.5" r="2.65"/><circle cx="235.0" cy="417.5" r="2.65"/><circle cx="255.8" cy="411.7" r="2.65"/><circle cx="254.2" cy="415.8" r="2.65"/><circle cx="221.3" cy="416.7" r="2.65"/><circle cx="204.2" cy="419.2" r="2.65"/><circle cx="345.0" cy="352.0" r="2.65"/><circle cx="261.7" cy="363.3" r="2.65"/><circle cx="282.2" cy="363.3" r="2.65"/><circle cx="280.0" cy="371.7" r="2.65"/><circle cx="298.0" cy="371.3" r="2.65"/><circle cx="261.7" cy="377.5" r="2.65"/><circle cx="284.2" cy="378.7" r="2.65"/><circle cx="286.7" cy="377.5" r="2.65"/><circle cx="294.2" cy="377.5" r="2.65"/><circle cx="292.5" cy="380.8" r="2.65"/><circle cx="303.7" cy="375.8" r="2.65"/><circle cx="308.0" cy="381.7" r="2.65"/><circle cx="277.5" cy="383.0" r="2.65"/><circle cx="279.7" cy="387.5" r="2.65"/><circle cx="328.3" cy="380.8" r="2.65"/><circle cx="322.0" cy="390.0" r="2.65"/><circle cx="263.0" cy="391.3" r="2.65"/><circle cx="275.8" cy="390.8" r="2.65"/><circle cx="281.7" cy="393.3" r="2.65"/><circle cx="290.8" cy="393.0" r="2.65"/><circle cx="293.3" cy="393.7" r="2.65"/><circle cx="305.0" cy="392.5" r="2.65"/><circle cx="297.5" cy="397.5" r="2.65"/><circle cx="269.2" cy="396.3" r="2.65"/><circle cx="263.3" cy="395.8" r="2.65"/><circle cx="285.0" cy="396.7" r="2.65"/><circle cx="277.0" cy="395.0" r="2.65"/><circle cx="270.3" cy="401.2" r="2.65"/><circle cx="288.7" cy="401.2" r="2.65"/><circle cx="284.2" cy="405.0" r="2.65"/><circle cx="295.8" cy="400.0" r="2.65"/><circle cx="319.2" cy="406.7" r="2.65"/><circle cx="350.0" cy="396.3" r="2.65"/><circle cx="355.3" cy="398.3" r="2.65"/><circle cx="355.8" cy="401.7" r="2.65"/><circle cx="338.3" cy="403.3" r="2.65"/><circle cx="340.8" cy="407.5" r="2.65"/><circle cx="347.0" cy="409.2" r="2.65"/><circle cx="355.8" cy="405.8" r="2.65"/><circle cx="350.0" cy="413.3" r="2.65"/><circle cx="359.2" cy="410.0" r="2.65"/><circle cx="333.3" cy="411.7" r="2.65"/><circle cx="328.3" cy="413.3" r="2.65"/><circle cx="337.0" cy="414.2" r="2.65"/><circle cx="329.2" cy="416.7" r="2.65"/><circle cx="320.8" cy="416.7" r="2.65"/><circle cx="314.7" cy="416.7" r="2.65"/><circle cx="295.0" cy="408.7" r="2.65"/><circle cx="287.5" cy="410.8" r="2.65"/><circle cx="292.5" cy="413.3" r="2.65"/><circle cx="301.7" cy="414.2" r="2.65"/><circle cx="285.8" cy="416.3" r="2.65"/><circle cx="279.2" cy="415.3" r="2.65"/><circle cx="270.0" cy="413.7" r="2.65"/><circle cx="274.2" cy="418.3" r="2.65"/><circle cx="263.3" cy="417.5" r="2.65"/><circle cx="357.5" cy="416.7" r="2.65"/><circle cx="370.3" cy="390.8" r="2.65"/><circle cx="388.7" cy="396.7" r="2.65"/><circle cx="405.3" cy="397.0" r="2.65"/><circle cx="405.3" cy="400.0" r="2.65"/><circle cx="415.8" cy="395.5" r="2.65"/><circle cx="368.3" cy="405.0" r="2.65"/><circle cx="361.7" cy="407.5" r="2.65"/><circle cx="377.5" cy="406.7" r="2.65"/><circle cx="378.3" cy="409.2" r="2.65"/><circle cx="383.3" cy="411.3" r="2.65"/><circle cx="390.8" cy="410.0" r="2.65"/><circle cx="394.2" cy="413.0" r="2.65"/><circle cx="372.5" cy="414.2" r="2.65"/><circle cx="366.7" cy="416.7" r="2.65"/><circle cx="360.8" cy="415.8" r="2.65"/><circle cx="391.7" cy="417.5" r="2.65"/><circle cx="404.7" cy="415.0" r="2.65"/><circle cx="402.5" cy="418.3" r="2.65"/><circle cx="206.3" cy="423.3" r="2.65"/><circle cx="204.7" cy="425.8" r="2.65"/><circle cx="212.0" cy="427.0" r="2.65"/><circle cx="218.3" cy="432.5" r="2.65"/><circle cx="224.7" cy="430.8" r="2.65"/><circle cx="225.8" cy="435.8" r="2.65"/><circle cx="221.3" cy="440.0" r="2.65"/><circle cx="231.3" cy="433.0" r="2.65"/><circle cx="234.2" cy="435.3" r="2.65"/><circle cx="236.7" cy="425.0" r="2.65"/><circle cx="233.3" cy="422.5" r="2.65"/><circle cx="240.8" cy="428.3" r="2.65"/><circle cx="243.3" cy="425.8" r="2.65"/><circle cx="244.2" cy="431.7" r="2.65"/><circle cx="238.0" cy="442.5" r="2.65"/><circle cx="230.3" cy="450.8" r="2.65"/><circle cx="206.3" cy="461.2" r="2.65"/><circle cx="255.3" cy="430.8" r="2.65"/><circle cx="259.7" cy="432.0" r="2.65"/><circle cx="266.7" cy="422.5" r="2.65"/><circle cx="286.7" cy="422.5" r="2.65"/><circle cx="295.0" cy="421.7" r="2.65"/><circle cx="292.5" cy="426.7" r="2.65"/><circle cx="294.2" cy="431.7" r="2.65"/><circle cx="281.3" cy="434.5" r="2.65"/><circle cx="289.2" cy="439.2" r="2.65"/><circle cx="290.8" cy="441.3" r="2.65"/><circle cx="289.7" cy="450.3" r="2.65"/><circle cx="274.7" cy="453.0" r="2.65"/><circle cx="316.7" cy="421.7" r="2.65"/><circle cx="312.5" cy="422.5" r="2.65"/><circle cx="317.5" cy="427.0" r="2.65"/><circle cx="314.7" cy="433.3" r="2.65"/><circle cx="319.2" cy="442.5" r="2.65"/><circle cx="309.2" cy="449.2" r="2.65"/><circle cx="313.7" cy="456.3" r="2.65"/><circle cx="323.8" cy="448.3" r="2.65"/><circle cx="327.5" cy="445.0" r="2.65"/><circle cx="326.7" cy="432.0" r="2.65"/><circle cx="330.0" cy="426.7" r="2.65"/><circle cx="336.3" cy="425.8" r="2.65"/><circle cx="333.3" cy="430.0" r="2.65"/><circle cx="341.3" cy="433.3" r="2.65"/><circle cx="340.8" cy="441.7" r="2.65"/><circle cx="340.3" cy="451.7" r="2.65"/><circle cx="350.8" cy="449.2" r="2.65"/><circle cx="356.3" cy="437.0" r="2.65"/><circle cx="348.0" cy="430.8" r="2.65"/><circle cx="345.0" cy="426.3" r="2.65"/><circle cx="353.3" cy="422.5" r="2.65"/><circle cx="355.8" cy="429.2" r="2.65"/><circle cx="343.3" cy="421.7" r="2.65"/><circle cx="322.0" cy="470.0" r="2.65"/><circle cx="332.2" cy="468.7" r="2.65"/><circle cx="313.0" cy="477.0" r="2.65"/><circle cx="319.2" cy="480.3" r="2.65"/><circle cx="312.5" cy="486.3" r="2.65"/><circle cx="359.7" cy="466.7" r="2.65"/><circle cx="260.0" cy="432.0" r="2.65"/><circle cx="370.8" cy="423.3" r="2.65"/><circle cx="364.2" cy="427.5" r="2.65"/><circle cx="361.7" cy="435.0" r="2.65"/><circle cx="367.5" cy="436.7" r="2.65"/><circle cx="365.0" cy="440.0" r="2.65"/><circle cx="376.7" cy="428.3" r="2.65"/><circle cx="382.5" cy="425.0" r="2.65"/><circle cx="386.3" cy="426.3" r="2.65"/><circle cx="392.5" cy="422.5" r="2.65"/><circle cx="392.5" cy="430.8" r="2.65"/><circle cx="397.0" cy="435.3" r="2.65"/><circle cx="377.5" cy="439.2" r="2.65"/><circle cx="378.0" cy="442.5" r="2.65"/><circle cx="383.3" cy="445.0" r="2.65"/><circle cx="403.3" cy="423.3" r="2.65"/><circle cx="400.8" cy="424.2" r="2.65"/><circle cx="410.0" cy="422.5" r="2.65"/><circle cx="415.8" cy="427.0" r="2.65"/><circle cx="409.2" cy="428.3" r="2.65"/><circle cx="412.0" cy="431.7" r="2.65"/><circle cx="404.7" cy="435.3" r="2.65"/><circle cx="410.0" cy="437.0" r="2.65"/><circle cx="398.7" cy="444.7" r="2.65"/><circle cx="406.7" cy="444.7" r="2.65"/><circle cx="403.3" cy="447.5" r="2.65"/><circle cx="407.5" cy="449.7" r="2.65"/><circle cx="410.8" cy="450.3" r="2.65"/><circle cx="426.3" cy="424.2" r="2.65"/><circle cx="434.2" cy="422.5" r="2.65"/><circle cx="297.2" cy="558.0" r="2.65"/><circle cx="238.2" cy="414.7" r="2.65"/><circle cx="243.0" cy="419.0" r="2.65"/><circle cx="240.5" cy="429.0" r="2.65"/><circle cx="224.0" cy="415.5" r="2.65"/><circle cx="231.0" cy="421.2" r="2.65"/><circle cx="350.5" cy="406.5" r="2.65"/><circle cx="355.0" cy="415.0" r="2.65"/><circle cx="349.0" cy="419.0" r="2.65"/></g>
<path d="M56.6 682.3L583 719.9" stroke="#cc0000" stroke-width="1.9" stroke-dasharray="9.6 5.26" stroke-dashoffset="2.0" fill="none"/>
<path d="M56.6 676.7L583 722.0" stroke="#0c0c9c" stroke-width="1.9" stroke-dasharray="9.6 5.26" stroke-dashoffset="2.0" fill="none"/>
<g fill="#cc0000"><circle cx="249.7" cy="609.5" r="3.4"/><circle cx="215.0" cy="635.0" r="3.4"/><circle cx="219.2" cy="635.0" r="3.4"/><circle cx="216.3" cy="648.7" r="3.4"/><circle cx="199.2" cy="653.7" r="3.4"/><circle cx="190.8" cy="658.7" r="3.4"/><circle cx="239.5" cy="655.8" r="3.4"/><circle cx="263.3" cy="657.0" r="3.4"/><circle cx="225.8" cy="663.3" r="3.4"/><circle cx="261.7" cy="664.2" r="3.4"/><circle cx="260.0" cy="666.3" r="3.4"/><circle cx="261.7" cy="671.7" r="3.4"/><circle cx="244.2" cy="671.7" r="3.4"/><circle cx="279.7" cy="666.2" r="3.4"/><circle cx="243.3" cy="678.3" r="3.4"/><circle cx="229.2" cy="679.7" r="3.4"/><circle cx="231.7" cy="678.3" r="3.4"/><circle cx="253.0" cy="679.7" r="3.4"/><circle cx="196.3" cy="682.5" r="3.4"/><circle cx="187.5" cy="684.7" r="3.4"/><circle cx="266.7" cy="685.0" r="3.4"/><circle cx="237.5" cy="692.5" r="3.4"/><circle cx="261.7" cy="695.0" r="3.4"/><circle cx="216.3" cy="699.7" r="3.4"/><circle cx="323.0" cy="630.8" r="3.4"/><circle cx="323.8" cy="646.7" r="3.4"/><circle cx="307.0" cy="654.7" r="3.4"/><circle cx="313.8" cy="656.7" r="3.4"/><circle cx="296.7" cy="663.8" r="3.4"/><circle cx="362.8" cy="659.2" r="3.4"/><circle cx="358.0" cy="664.2" r="3.4"/><circle cx="360.0" cy="667.5" r="3.4"/><circle cx="379.7" cy="663.3" r="3.4"/><circle cx="304.2" cy="668.7" r="3.4"/><circle cx="307.5" cy="669.2" r="3.4"/><circle cx="329.2" cy="663.0" r="3.4"/><circle cx="301.7" cy="675.8" r="3.4"/><circle cx="305.0" cy="680.0" r="3.4"/><circle cx="306.7" cy="685.0" r="3.4"/><circle cx="329.2" cy="686.3" r="3.4"/><circle cx="361.3" cy="671.7" r="3.4"/><circle cx="353.3" cy="673.3" r="3.4"/><circle cx="362.5" cy="676.7" r="3.4"/><circle cx="368.3" cy="674.2" r="3.4"/><circle cx="377.0" cy="682.0" r="3.4"/><circle cx="361.7" cy="687.5" r="3.4"/><circle cx="377.5" cy="696.7" r="3.4"/><circle cx="295.0" cy="690.8" r="3.4"/><circle cx="321.7" cy="695.8" r="3.4"/><circle cx="352.5" cy="697.5" r="3.4"/><circle cx="398.0" cy="620.0" r="3.4"/><circle cx="395.0" cy="655.8" r="3.4"/><circle cx="383.0" cy="657.8" r="3.4"/><circle cx="388.0" cy="671.7" r="3.4"/><circle cx="386.7" cy="675.0" r="3.4"/><circle cx="402.5" cy="681.7" r="3.4"/><circle cx="398.3" cy="683.3" r="3.4"/><circle cx="418.3" cy="687.0" r="3.4"/><circle cx="384.2" cy="683.3" r="3.4"/><circle cx="386.7" cy="688.3" r="3.4"/><circle cx="387.5" cy="691.7" r="3.4"/><circle cx="383.3" cy="695.0" r="3.4"/><circle cx="381.3" cy="686.7" r="3.4"/><circle cx="200.0" cy="701.3" r="3.4"/><circle cx="215.8" cy="700.0" r="3.4"/><circle cx="210.8" cy="707.0" r="3.4"/><circle cx="184.7" cy="710.3" r="3.4"/><circle cx="195.0" cy="711.7" r="3.4"/><circle cx="194.2" cy="721.7" r="3.4"/><circle cx="183.7" cy="724.5" r="3.4"/><circle cx="190.8" cy="722.5" r="3.4"/><circle cx="210.0" cy="731.7" r="3.4"/><circle cx="194.2" cy="736.3" r="3.4"/><circle cx="222.0" cy="743.0" r="3.4"/><circle cx="230.0" cy="738.0" r="3.4"/><circle cx="230.8" cy="740.8" r="3.4"/><circle cx="239.7" cy="737.0" r="3.4"/><circle cx="226.7" cy="725.8" r="3.4"/><circle cx="242.5" cy="725.0" r="3.4"/><circle cx="252.5" cy="727.5" r="3.4"/><circle cx="265.0" cy="727.5" r="3.4"/><circle cx="266.7" cy="724.2" r="3.4"/><circle cx="250.8" cy="701.7" r="3.4"/><circle cx="248.3" cy="710.8" r="3.4"/><circle cx="227.5" cy="715.0" r="3.4"/><circle cx="235.0" cy="718.3" r="3.4"/><circle cx="222.5" cy="722.5" r="3.4"/><circle cx="292.5" cy="703.5" r="3.4"/><circle cx="301.0" cy="710.0" r="3.4"/><circle cx="296.0" cy="714.0" r="3.4"/><circle cx="311.8" cy="722.2" r="3.4"/><circle cx="322.0" cy="706.0" r="3.4"/><circle cx="325.5" cy="715.0" r="3.4"/><circle cx="332.5" cy="725.5" r="3.4"/><circle cx="336.0" cy="722.5" r="3.4"/><circle cx="339.0" cy="736.5" r="3.4"/><circle cx="338.0" cy="711.0" r="3.4"/><circle cx="351.0" cy="706.0" r="3.4"/><circle cx="353.0" cy="703.0" r="3.4"/><circle cx="355.0" cy="710.0" r="3.4"/><circle cx="373.0" cy="715.0" r="3.4"/><circle cx="360.0" cy="726.0" r="3.4"/><circle cx="361.5" cy="730.0" r="3.4"/><circle cx="361.5" cy="734.0" r="3.4"/><circle cx="361.5" cy="738.5" r="3.4"/><circle cx="364.0" cy="740.0" r="3.4"/><circle cx="368.0" cy="727.0" r="3.4"/><circle cx="371.0" cy="728.0" r="3.4"/><circle cx="378.0" cy="729.0" r="3.4"/><circle cx="377.5" cy="734.0" r="3.4"/><circle cx="380.0" cy="727.0" r="3.4"/><circle cx="351.0" cy="736.5" r="3.4"/><circle cx="340.0" cy="736.0" r="3.4"/><circle cx="341.0" cy="728.0" r="3.4"/><circle cx="395.0" cy="720.5" r="3.4"/><circle cx="384.0" cy="715.0" r="3.4"/><circle cx="387.0" cy="716.0" r="3.4"/><circle cx="390.5" cy="733.5" r="3.4"/><circle cx="393.0" cy="738.0" r="3.4"/><circle cx="400.0" cy="739.5" r="3.4"/><circle cx="371.0" cy="746.0" r="3.4"/><circle cx="366.5" cy="749.5" r="3.4"/><circle cx="353.0" cy="719.0" r="3.4"/><circle cx="382.0" cy="701.0" r="3.4"/><circle cx="408.2" cy="715.8" r="3.4"/><circle cx="413.0" cy="722.3" r="3.4"/><circle cx="430.5" cy="725.0" r="3.4"/><circle cx="433.5" cy="727.2" r="3.4"/><circle cx="422.5" cy="729.0" r="3.4"/><circle cx="426.5" cy="729.3" r="3.4"/><circle cx="419.0" cy="734.5" r="3.4"/><circle cx="426.5" cy="736.2" r="3.4"/><circle cx="411.0" cy="741.8" r="3.4"/></g>
<g fill="#fff" stroke="#0c0c9c" stroke-width="1.3"><circle cx="204.5" cy="614.5" r="2.65"/><circle cx="213.7" cy="630.8" r="2.65"/><circle cx="198.3" cy="654.7" r="2.65"/><circle cx="194.2" cy="658.0" r="2.65"/><circle cx="196.7" cy="663.7" r="2.65"/><circle cx="195.0" cy="668.7" r="2.65"/><circle cx="192.0" cy="672.8" r="2.65"/><circle cx="197.5" cy="672.0" r="2.65"/><circle cx="223.8" cy="661.7" r="2.65"/><circle cx="225.8" cy="670.0" r="2.65"/><circle cx="247.0" cy="657.8" r="2.65"/><circle cx="233.7" cy="670.3" r="2.65"/><circle cx="234.2" cy="673.3" r="2.65"/><circle cx="238.7" cy="675.3" r="2.65"/><circle cx="266.3" cy="672.8" r="2.65"/><circle cx="258.3" cy="677.0" r="2.65"/><circle cx="203.7" cy="680.0" r="2.65"/><circle cx="208.3" cy="682.8" r="2.65"/><circle cx="219.2" cy="679.2" r="2.65"/><circle cx="220.8" cy="680.0" r="2.65"/><circle cx="232.0" cy="686.3" r="2.65"/><circle cx="241.7" cy="683.3" r="2.65"/><circle cx="240.0" cy="686.7" r="2.65"/><circle cx="244.2" cy="687.0" r="2.65"/><circle cx="247.5" cy="686.7" r="2.65"/><circle cx="240.8" cy="691.7" r="2.65"/><circle cx="245.0" cy="692.5" r="2.65"/><circle cx="249.2" cy="692.5" r="2.65"/><circle cx="252.5" cy="695.0" r="2.65"/><circle cx="231.7" cy="695.3" r="2.65"/><circle cx="234.2" cy="697.5" r="2.65"/><circle cx="253.3" cy="690.0" r="2.65"/><circle cx="256.3" cy="685.0" r="2.65"/><circle cx="261.2" cy="683.8" r="2.65"/><circle cx="266.7" cy="686.7" r="2.65"/><circle cx="265.0" cy="691.3" r="2.65"/><circle cx="257.5" cy="697.5" r="2.65"/><circle cx="266.7" cy="696.7" r="2.65"/><circle cx="270.8" cy="685.0" r="2.65"/><circle cx="274.2" cy="683.0" r="2.65"/><circle cx="275.8" cy="690.5" r="2.65"/><circle cx="196.7" cy="696.7" r="2.65"/><circle cx="311.7" cy="634.7" r="2.65"/><circle cx="327.0" cy="650.3" r="2.65"/><circle cx="320.3" cy="659.5" r="2.65"/><circle cx="315.3" cy="662.5" r="2.65"/><circle cx="332.2" cy="662.2" r="2.65"/><circle cx="286.2" cy="666.2" r="2.65"/><circle cx="322.5" cy="667.5" r="2.65"/><circle cx="325.8" cy="667.0" r="2.65"/><circle cx="315.8" cy="670.8" r="2.65"/><circle cx="310.8" cy="673.0" r="2.65"/><circle cx="305.3" cy="673.3" r="2.65"/><circle cx="327.5" cy="672.5" r="2.65"/><circle cx="330.8" cy="670.8" r="2.65"/><circle cx="338.0" cy="674.2" r="2.65"/><circle cx="337.0" cy="679.2" r="2.65"/><circle cx="322.5" cy="677.5" r="2.65"/><circle cx="312.5" cy="677.5" r="2.65"/><circle cx="348.7" cy="672.5" r="2.65"/><circle cx="371.2" cy="670.5" r="2.65"/><circle cx="357.5" cy="676.2" r="2.65"/><circle cx="354.7" cy="681.2" r="2.65"/><circle cx="366.7" cy="681.2" r="2.65"/><circle cx="370.0" cy="682.5" r="2.65"/><circle cx="295.0" cy="679.2" r="2.65"/><circle cx="289.7" cy="682.0" r="2.65"/><circle cx="292.5" cy="685.8" r="2.65"/><circle cx="302.5" cy="689.2" r="2.65"/><circle cx="305.0" cy="686.7" r="2.65"/><circle cx="303.3" cy="691.7" r="2.65"/><circle cx="318.3" cy="689.2" r="2.65"/><circle cx="321.3" cy="688.3" r="2.65"/><circle cx="324.2" cy="693.3" r="2.65"/><circle cx="328.3" cy="693.3" r="2.65"/><circle cx="338.0" cy="689.2" r="2.65"/><circle cx="343.3" cy="688.0" r="2.65"/><circle cx="338.3" cy="693.3" r="2.65"/><circle cx="350.8" cy="691.7" r="2.65"/><circle cx="353.0" cy="688.3" r="2.65"/><circle cx="355.8" cy="694.2" r="2.65"/><circle cx="366.7" cy="690.8" r="2.65"/><circle cx="370.0" cy="687.5" r="2.65"/><circle cx="375.8" cy="691.7" r="2.65"/><circle cx="360.0" cy="697.5" r="2.65"/><circle cx="370.8" cy="698.3" r="2.65"/><circle cx="343.3" cy="698.3" r="2.65"/><circle cx="310.0" cy="696.7" r="2.65"/><circle cx="307.5" cy="695.0" r="2.65"/><circle cx="300.0" cy="697.5" r="2.65"/><circle cx="291.3" cy="694.2" r="2.65"/><circle cx="285.8" cy="694.2" r="2.65"/><circle cx="281.7" cy="692.5" r="2.65"/><circle cx="294.2" cy="696.7" r="2.65"/><circle cx="283.0" cy="699.7" r="2.65"/><circle cx="398.0" cy="673.3" r="2.65"/><circle cx="396.7" cy="680.0" r="2.65"/><circle cx="391.3" cy="683.3" r="2.65"/><circle cx="401.7" cy="698.7" r="2.65"/><circle cx="190.3" cy="707.0" r="2.65"/><circle cx="198.0" cy="705.0" r="2.65"/><circle cx="196.7" cy="714.2" r="2.65"/><circle cx="189.7" cy="718.8" r="2.65"/><circle cx="223.0" cy="710.3" r="2.65"/><circle cx="220.8" cy="716.7" r="2.65"/><circle cx="223.7" cy="721.7" r="2.65"/><circle cx="229.2" cy="705.8" r="2.65"/><circle cx="231.7" cy="712.5" r="2.65"/><circle cx="235.8" cy="708.3" r="2.65"/><circle cx="238.3" cy="715.8" r="2.65"/><circle cx="235.8" cy="725.8" r="2.65"/><circle cx="246.3" cy="723.3" r="2.65"/><circle cx="244.2" cy="702.5" r="2.65"/><circle cx="240.8" cy="700.0" r="2.65"/><circle cx="244.2" cy="713.3" r="2.65"/><circle cx="257.5" cy="706.7" r="2.65"/><circle cx="255.0" cy="713.3" r="2.65"/><circle cx="257.5" cy="720.0" r="2.65"/><circle cx="261.7" cy="702.5" r="2.65"/><circle cx="260.8" cy="707.5" r="2.65"/><circle cx="265.8" cy="706.7" r="2.65"/><circle cx="268.3" cy="701.7" r="2.65"/><circle cx="266.7" cy="713.3" r="2.65"/><circle cx="265.3" cy="720.0" r="2.65"/><circle cx="270.0" cy="710.8" r="2.65"/><circle cx="279.2" cy="703.7" r="2.65"/><circle cx="288.5" cy="700.5" r="2.65"/><circle cx="290.5" cy="709.5" r="2.65"/><circle cx="298.5" cy="702.0" r="2.65"/><circle cx="300.0" cy="705.0" r="2.65"/><circle cx="303.5" cy="702.5" r="2.65"/><circle cx="304.5" cy="706.5" r="2.65"/><circle cx="309.0" cy="701.5" r="2.65"/><circle cx="309.2" cy="714.0" r="2.65"/><circle cx="303.5" cy="726.2" r="2.65"/><circle cx="316.0" cy="701.0" r="2.65"/><circle cx="324.0" cy="702.5" r="2.65"/><circle cx="321.2" cy="710.5" r="2.65"/><circle cx="318.5" cy="713.5" r="2.65"/><circle cx="327.0" cy="707.5" r="2.65"/><circle cx="325.5" cy="712.0" r="2.65"/><circle cx="332.0" cy="703.0" r="2.65"/><circle cx="332.5" cy="709.5" r="2.65"/><circle cx="337.0" cy="707.0" r="2.65"/><circle cx="329.5" cy="718.0" r="2.65"/><circle cx="337.0" cy="716.0" r="2.65"/><circle cx="338.0" cy="719.0" r="2.65"/><circle cx="324.0" cy="725.5" r="2.65"/><circle cx="327.0" cy="725.5" r="2.65"/><circle cx="337.8" cy="729.0" r="2.65"/><circle cx="332.0" cy="732.0" r="2.65"/><circle cx="343.5" cy="710.5" r="2.65"/><circle cx="349.5" cy="712.5" r="2.65"/><circle cx="344.5" cy="716.0" r="2.65"/><circle cx="354.0" cy="715.0" r="2.65"/><circle cx="343.5" cy="720.5" r="2.65"/><circle cx="348.5" cy="718.5" r="2.65"/><circle cx="359.0" cy="705.5" r="2.65"/><circle cx="364.5" cy="705.5" r="2.65"/><circle cx="361.5" cy="711.0" r="2.65"/><circle cx="365.5" cy="711.5" r="2.65"/><circle cx="371.0" cy="710.5" r="2.65"/><circle cx="358.5" cy="716.0" r="2.65"/><circle cx="365.0" cy="718.5" r="2.65"/><circle cx="370.0" cy="718.5" r="2.65"/><circle cx="362.0" cy="720.5" r="2.65"/><circle cx="367.5" cy="721.5" r="2.65"/><circle cx="377.8" cy="707.0" r="2.65"/><circle cx="384.0" cy="708.5" r="2.65"/><circle cx="389.7" cy="709.5" r="2.65"/><circle cx="391.0" cy="701.5" r="2.65"/><circle cx="377.8" cy="720.5" r="2.65"/><circle cx="375.8" cy="723.5" r="2.65"/><circle cx="381.5" cy="718.5" r="2.65"/><circle cx="388.8" cy="719.5" r="2.65"/><circle cx="343.5" cy="741.0" r="2.65"/><circle cx="370.2" cy="733.5" r="2.65"/><circle cx="388.8" cy="729.5" r="2.65"/><circle cx="394.5" cy="729.0" r="2.65"/><circle cx="387.0" cy="742.8" r="2.65"/><circle cx="394.5" cy="743.5" r="2.65"/><circle cx="399.5" cy="703.0" r="2.65"/><circle cx="404.5" cy="705.0" r="2.65"/><circle cx="260.0" cy="713.5" r="2.65"/><circle cx="268.7" cy="715.5" r="2.65"/><circle cx="261.2" cy="719.2" r="2.65"/><circle cx="243.0" cy="709.5" r="2.65"/><circle cx="241.2" cy="714.2" r="2.65"/><circle cx="227.5" cy="709.5" r="2.65"/><circle cx="246.0" cy="695.8" r="2.65"/></g>
<path d="M96.73 29.95v3.2M96.73 295.85v-3.2M120.20 29.95v3.2M120.20 295.85v-3.2M136.85 29.95v3.2M136.85 295.85v-3.2M149.77 29.95v3.2M149.77 295.85v-3.2M160.33 29.95v3.2M160.33 295.85v-3.2M169.25 29.95v3.2M169.25 295.85v-3.2M176.98 29.95v3.2M176.98 295.85v-3.2M183.80 29.95v3.2M183.80 295.85v-3.2M189.90 29.95v6M189.90 295.85v-6M230.03 29.95v3.2M230.03 295.85v-3.2M253.50 29.95v3.2M253.50 295.85v-3.2M270.15 29.95v3.2M270.15 295.85v-3.2M283.07 29.95v3.2M283.07 295.85v-3.2M293.63 29.95v3.2M293.63 295.85v-3.2M302.55 29.95v3.2M302.55 295.85v-3.2M310.28 29.95v3.2M310.28 295.85v-3.2M317.10 29.95v3.2M317.10 295.85v-3.2M323.20 29.95v6M323.20 295.85v-6M363.33 29.95v3.2M363.33 295.85v-3.2M386.80 29.95v3.2M386.80 295.85v-3.2M403.45 29.95v3.2M403.45 295.85v-3.2M416.37 29.95v3.2M416.37 295.85v-3.2M426.93 29.95v3.2M426.93 295.85v-3.2M435.85 29.95v3.2M435.85 295.85v-3.2M443.58 29.95v3.2M443.58 295.85v-3.2M450.40 29.95v3.2M450.40 295.85v-3.2M456.50 29.95v6M456.50 295.85v-6M496.63 29.95v3.2M496.63 295.85v-3.2M520.10 29.95v3.2M520.10 295.85v-3.2M536.75 29.95v3.2M536.75 295.85v-3.2M549.67 29.95v3.2M549.67 295.85v-3.2M560.23 29.95v3.2M560.23 295.85v-3.2M569.15 29.95v3.2M569.15 295.85v-3.2M576.88 29.95v3.2M576.88 295.85v-3.2M583.70 29.95v3.2M583.70 295.85v-3.2M56.6 269.17h3.0M589.8 269.17h-3.0M56.6 253.56h3.0M589.8 253.56h-3.0M56.6 242.49h3.0M589.8 242.49h-3.0M56.6 233.90h3.0M589.8 233.90h-3.0M56.6 226.88h3.0M589.8 226.88h-3.0M56.6 220.95h3.0M589.8 220.95h-3.0M56.6 215.81h3.0M589.8 215.81h-3.0M56.6 211.27h3.0M589.8 211.27h-3.0M56.6 207.22h5.8M589.8 207.22h-5.8M56.6 180.54h3.0M589.8 180.54h-3.0M56.6 164.93h3.0M589.8 164.93h-3.0M56.6 153.85h3.0M589.8 153.85h-3.0M56.6 145.26h3.0M589.8 145.26h-3.0M56.6 138.25h3.0M589.8 138.25h-3.0M56.6 132.31h3.0M589.8 132.31h-3.0M56.6 127.17h3.0M589.8 127.17h-3.0M56.6 122.64h3.0M589.8 122.64h-3.0M56.6 118.58h5.8M589.8 118.58h-5.8M56.6 91.90h3.0M589.8 91.90h-3.0M56.6 76.29h3.0M589.8 76.29h-3.0M56.6 65.22h3.0M589.8 65.22h-3.0M56.6 56.63h3.0M589.8 56.63h-3.0M56.6 49.61h3.0M589.8 49.61h-3.0M56.6 43.68h3.0M589.8 43.68h-3.0M56.6 38.54h3.0M589.8 38.54h-3.0M56.6 34.01h3.0M589.8 34.01h-3.0" stroke="#2a2aa6" stroke-width="1" fill="none"/>
<rect x="56.6" y="29.95" width="533.20" height="265.90" fill="none" stroke="#2a2aa6" stroke-width="1.2"/>
<text transform="translate(30.35,302.9) scale(1.0673,1)" font-size="13.31" fill="#000" stroke="#000" stroke-width="0.3" text-anchor="start" xml:space="preserve">10</text>
<text transform="translate(45.1,297.6) scale(0.9615,1)" font-size="9.05" fill="#000" stroke="#000" stroke-width="0.3" text-anchor="start" xml:space="preserve">-1</text>
<text transform="translate(33.3,214.2) scale(1.0673,1)" font-size="13.31" fill="#000" stroke="#000" stroke-width="0.3" text-anchor="start" xml:space="preserve">10</text>
<text transform="translate(48.7,208.9) scale(0.9615,1)" font-size="9.05" fill="#000" stroke="#000" stroke-width="0.3" text-anchor="start" xml:space="preserve">0</text>
<text transform="translate(33.3,125.6) scale(1.0673,1)" font-size="13.31" fill="#000" stroke="#000" stroke-width="0.3" text-anchor="start" xml:space="preserve">10</text>
<text transform="translate(48.7,120.3) scale(0.9615,1)" font-size="9.05" fill="#000" stroke="#000" stroke-width="0.3" text-anchor="start" xml:space="preserve">1</text>
<text transform="translate(33.3,36.9) scale(1.0673,1)" font-size="13.31" fill="#000" stroke="#000" stroke-width="0.3" text-anchor="start" xml:space="preserve">10</text>
<text transform="translate(48.7,31.6) scale(0.9615,1)" font-size="9.05" fill="#000" stroke="#000" stroke-width="0.3" text-anchor="start" xml:space="preserve">2</text>
<path d="M96.73 304.9v3.2M96.73 570.85v-3.2M120.20 304.9v3.2M120.20 570.85v-3.2M136.85 304.9v3.2M136.85 570.85v-3.2M149.77 304.9v3.2M149.77 570.85v-3.2M160.33 304.9v3.2M160.33 570.85v-3.2M169.25 304.9v3.2M169.25 570.85v-3.2M176.98 304.9v3.2M176.98 570.85v-3.2M183.80 304.9v3.2M183.80 570.85v-3.2M189.90 304.9v6M189.90 570.85v-6M230.03 304.9v3.2M230.03 570.85v-3.2M253.50 304.9v3.2M253.50 570.85v-3.2M270.15 304.9v3.2M270.15 570.85v-3.2M283.07 304.9v3.2M283.07 570.85v-3.2M293.63 304.9v3.2M293.63 570.85v-3.2M302.55 304.9v3.2M302.55 570.85v-3.2M310.28 304.9v3.2M310.28 570.85v-3.2M317.10 304.9v3.2M317.10 570.85v-3.2M323.20 304.9v6M323.20 570.85v-6M363.33 304.9v3.2M363.33 570.85v-3.2M386.80 304.9v3.2M386.80 570.85v-3.2M403.45 304.9v3.2M403.45 570.85v-3.2M416.37 304.9v3.2M416.37 570.85v-3.2M426.93 304.9v3.2M426.93 570.85v-3.2M435.85 304.9v3.2M435.85 570.85v-3.2M443.58 304.9v3.2M443.58 570.85v-3.2M450.40 304.9v3.2M450.40 570.85v-3.2M456.50 304.9v6M456.50 570.85v-6M496.63 304.9v3.2M496.63 570.85v-3.2M520.10 304.9v3.2M520.10 570.85v-3.2M536.75 304.9v3.2M536.75 570.85v-3.2M549.67 304.9v3.2M549.67 570.85v-3.2M560.23 304.9v3.2M560.23 570.85v-3.2M569.15 304.9v3.2M569.15 570.85v-3.2M576.88 304.9v3.2M576.88 570.85v-3.2M583.70 304.9v3.2M583.70 570.85v-3.2M56.6 544.16h3.0M589.8 544.16h-3.0M56.6 528.55h3.0M589.8 528.55h-3.0M56.6 517.48h3.0M589.8 517.48h-3.0M56.6 508.89h3.0M589.8 508.89h-3.0M56.6 501.87h3.0M589.8 501.87h-3.0M56.6 495.93h3.0M589.8 495.93h-3.0M56.6 490.79h3.0M589.8 490.79h-3.0M56.6 486.26h3.0M589.8 486.26h-3.0M56.6 482.20h5.8M589.8 482.20h-5.8M56.6 455.51h3.0M589.8 455.51h-3.0M56.6 439.90h3.0M589.8 439.90h-3.0M56.6 428.83h3.0M589.8 428.83h-3.0M56.6 420.24h3.0M589.8 420.24h-3.0M56.6 413.22h3.0M589.8 413.22h-3.0M56.6 407.28h3.0M589.8 407.28h-3.0M56.6 402.14h3.0M589.8 402.14h-3.0M56.6 397.61h3.0M589.8 397.61h-3.0M56.6 393.55h5.8M589.8 393.55h-5.8M56.6 366.86h3.0M589.8 366.86h-3.0M56.6 351.25h3.0M589.8 351.25h-3.0M56.6 340.18h3.0M589.8 340.18h-3.0M56.6 331.59h3.0M589.8 331.59h-3.0M56.6 324.57h3.0M589.8 324.57h-3.0M56.6 318.63h3.0M589.8 318.63h-3.0M56.6 313.49h3.0M589.8 313.49h-3.0M56.6 308.96h3.0M589.8 308.96h-3.0" stroke="#2a2aa6" stroke-width="1" fill="none"/>
<rect x="56.6" y="304.9" width="533.20" height="265.95" fill="none" stroke="#2a2aa6" stroke-width="1.2"/>
<text transform="translate(29.5,574.4) scale(1.0673,1)" font-size="13.31" fill="#000" stroke="#000" stroke-width="0.3" text-anchor="start" xml:space="preserve">10</text>
<text transform="translate(44.25,569.1) scale(0.9615,1)" font-size="9.05" fill="#000" stroke="#000" stroke-width="0.3" text-anchor="start" xml:space="preserve">-1</text>
<text transform="translate(32.45,485.7) scale(1.0673,1)" font-size="13.31" fill="#000" stroke="#000" stroke-width="0.3" text-anchor="start" xml:space="preserve">10</text>
<text transform="translate(47.85,480.4) scale(0.9615,1)" font-size="9.05" fill="#000" stroke="#000" stroke-width="0.3" text-anchor="start" xml:space="preserve">0</text>
<text transform="translate(32.45,397.1) scale(1.0673,1)" font-size="13.31" fill="#000" stroke="#000" stroke-width="0.3" text-anchor="start" xml:space="preserve">10</text>
<text transform="translate(47.85,391.8) scale(0.9615,1)" font-size="9.05" fill="#000" stroke="#000" stroke-width="0.3" text-anchor="start" xml:space="preserve">1</text>
<path d="M96.73 580.3v3.2M96.73 845.85v-3.2M120.20 580.3v3.2M120.20 845.85v-3.2M136.85 580.3v3.2M136.85 845.85v-3.2M149.77 580.3v3.2M149.77 845.85v-3.2M160.33 580.3v3.2M160.33 845.85v-3.2M169.25 580.3v3.2M169.25 845.85v-3.2M176.98 580.3v3.2M176.98 845.85v-3.2M183.80 580.3v3.2M183.80 845.85v-3.2M189.90 580.3v6M189.90 845.85v-6M230.03 580.3v3.2M230.03 845.85v-3.2M253.50 580.3v3.2M253.50 845.85v-3.2M270.15 580.3v3.2M270.15 845.85v-3.2M283.07 580.3v3.2M283.07 845.85v-3.2M293.63 580.3v3.2M293.63 845.85v-3.2M302.55 580.3v3.2M302.55 845.85v-3.2M310.28 580.3v3.2M310.28 845.85v-3.2M317.10 580.3v3.2M317.10 845.85v-3.2M323.20 580.3v6M323.20 845.85v-6M363.33 580.3v3.2M363.33 845.85v-3.2M386.80 580.3v3.2M386.80 845.85v-3.2M403.45 580.3v3.2M403.45 845.85v-3.2M416.37 580.3v3.2M416.37 845.85v-3.2M426.93 580.3v3.2M426.93 845.85v-3.2M435.85 580.3v3.2M435.85 845.85v-3.2M443.58 580.3v3.2M443.58 845.85v-3.2M450.40 580.3v3.2M450.40 845.85v-3.2M456.50 580.3v6M456.50 845.85v-6M496.63 580.3v3.2M496.63 845.85v-3.2M520.10 580.3v3.2M520.10 845.85v-3.2M536.75 580.3v3.2M536.75 845.85v-3.2M549.67 580.3v3.2M549.67 845.85v-3.2M560.23 580.3v3.2M560.23 845.85v-3.2M569.15 580.3v3.2M569.15 845.85v-3.2M576.88 580.3v3.2M576.88 845.85v-3.2M583.70 580.3v3.2M583.70 845.85v-3.2M56.6 819.20h3.0M589.8 819.20h-3.0M56.6 803.62h3.0M589.8 803.62h-3.0M56.6 792.56h3.0M589.8 792.56h-3.0M56.6 783.98h3.0M589.8 783.98h-3.0M56.6 776.97h3.0M589.8 776.97h-3.0M56.6 771.04h3.0M589.8 771.04h-3.0M56.6 765.91h3.0M589.8 765.91h-3.0M56.6 761.38h3.0M589.8 761.38h-3.0M56.6 757.33h5.8M589.8 757.33h-5.8M56.6 730.69h3.0M589.8 730.69h-3.0M56.6 715.10h3.0M589.8 715.10h-3.0M56.6 704.04h3.0M589.8 704.04h-3.0M56.6 695.46h3.0M589.8 695.46h-3.0M56.6 688.45h3.0M589.8 688.45h-3.0M56.6 682.53h3.0M589.8 682.53h-3.0M56.6 677.39h3.0M589.8 677.39h-3.0M56.6 672.87h3.0M589.8 672.87h-3.0M56.6 668.82h5.8M589.8 668.82h-5.8M56.6 642.17h3.0M589.8 642.17h-3.0M56.6 626.58h3.0M589.8 626.58h-3.0M56.6 615.52h3.0M589.8 615.52h-3.0M56.6 606.95h3.0M589.8 606.95h-3.0M56.6 599.94h3.0M589.8 599.94h-3.0M56.6 594.01h3.0M589.8 594.01h-3.0M56.6 588.88h3.0M589.8 588.88h-3.0M56.6 584.35h3.0M589.8 584.35h-3.0" stroke="#2a2aa6" stroke-width="1" fill="none"/>
<rect x="56.6" y="580.3" width="533.20" height="265.55" fill="none" stroke="#2a2aa6" stroke-width="1.2"/>
<text transform="translate(31.15,851.9) scale(1.0673,1)" font-size="13.31" fill="#000" stroke="#000" stroke-width="0.3" text-anchor="start" xml:space="preserve">10</text>
<text transform="translate(45.9,846.6) scale(0.9615,1)" font-size="9.05" fill="#000" stroke="#000" stroke-width="0.3" text-anchor="start" xml:space="preserve">-1</text>
<text transform="translate(34.1,763.3) scale(1.0673,1)" font-size="13.31" fill="#000" stroke="#000" stroke-width="0.3" text-anchor="start" xml:space="preserve">10</text>
<text transform="translate(49.5,758.0) scale(0.9615,1)" font-size="9.05" fill="#000" stroke="#000" stroke-width="0.3" text-anchor="start" xml:space="preserve">0</text>
<text transform="translate(34.1,674.8) scale(1.0673,1)" font-size="13.31" fill="#000" stroke="#000" stroke-width="0.3" text-anchor="start" xml:space="preserve">10</text>
<text transform="translate(49.5,669.5) scale(0.9615,1)" font-size="9.05" fill="#000" stroke="#000" stroke-width="0.3" text-anchor="start" xml:space="preserve">1</text>
<text transform="translate(56.0,860.7) scale(0.9904,1)" font-size="12.48" fill="#000" stroke="#000" stroke-width="0.3" text-anchor="middle" xml:space="preserve">0.01</text>
<text transform="translate(189.3,860.7) scale(0.9904,1)" font-size="12.48" fill="#000" stroke="#000" stroke-width="0.3" text-anchor="middle" xml:space="preserve">0.1</text>
<text transform="translate(322.6,860.7) scale(0.9904,1)" font-size="12.48" fill="#000" stroke="#000" stroke-width="0.3" text-anchor="middle" xml:space="preserve">1</text>
<text transform="translate(455.9,860.7) scale(0.9904,1)" font-size="12.48" fill="#000" stroke="#000" stroke-width="0.3" text-anchor="middle" xml:space="preserve">10</text>
<text transform="translate(589.2,860.7) scale(0.9904,1)" font-size="12.48" fill="#000" stroke="#000" stroke-width="0.3" text-anchor="middle" xml:space="preserve">100</text>
<text transform="translate(291.0,890) scale(1.0288,1)" font-size="16.22" fill="#000" stroke="#000" stroke-width="0.3" text-anchor="start" xml:space="preserve">Plasma</text>
<text transform="translate(350.3,890) scale(1.0,1)" font-size="17" fill="#000" text-anchor="start" font-family="Liberation Serif">β</text>
<text transform="translate(224.3,15.1) scale(1.0577,1)" font-size="18.72" fill="#000" stroke="#000" stroke-width="0.3" text-anchor="start" xml:space="preserve">Wind/MFI: at</text>
<text transform="translate(339.6,15.1) scale(1.15,1)" font-size="20" fill="#000" text-anchor="start" style="font-family:'Liberation Serif'">ν</text>
<text transform="translate(351.4,24.6) scale(1.0481,1)" font-size="12.48" fill="#000" stroke="#000" stroke-width="0.3" text-anchor="start" xml:space="preserve">0</text>
<text transform="translate(359.3,15.1) scale(1.0577,1)" font-size="18.72" fill="#000" stroke="#000" stroke-width="0.3" text-anchor="start" xml:space="preserve">= 1 Hz</text>
<g transform="translate(11.7,497) rotate(-90)">
<text transform="translate(0.2,0) scale(1.0096,1)" font-size="15.6" fill="#000" stroke="#000" stroke-width="0.3">(</text>
<text transform="translate(6.0,0) scale(1.0096,1)" font-size="15.6" fill="#000" stroke="#000" stroke-width="0.3">P</text>
<text transform="translate(16.9,8.2) scale(0.9904,1)" font-size="11.44" fill="#000" stroke="#000" stroke-width="0.3">0XX</text>
<text transform="translate(38.4,0) scale(1.0096,1)" font-size="15.6" fill="#000" stroke="#000" stroke-width="0.3">+</text>
<text transform="translate(47.5,0) scale(1.0096,1)" font-size="15.6" fill="#000" stroke="#000" stroke-width="0.3">P</text>
<text transform="translate(58.8,8.2) scale(0.9904,1)" font-size="11.44" fill="#000" stroke="#000" stroke-width="0.3">0YY</text>
<text transform="translate(78.8,0) scale(1.0096,1)" font-size="15.6" fill="#000" stroke="#000" stroke-width="0.3">)</text>
<text transform="translate(85.5,0) scale(1.0096,1)" font-size="15.6" fill="#000" stroke="#000" stroke-width="0.3">/</text>
<text transform="translate(91.1,0) scale(1.0096,1)" font-size="15.6" fill="#000" stroke="#000" stroke-width="0.3">P</text>
<text transform="translate(102.3,8.2) scale(0.9904,1)" font-size="11.44" fill="#000" stroke="#000" stroke-width="0.3">0ZZ</text>
</g>
<path d="M451.0 54.5h8.4M466.5 54.5h6.2M477.2 54.5h3.6" stroke="#cc0000" stroke-width="1.7"/><circle cx="466.3" cy="54.5" r="3.2" fill="#cc0000"/>
<text transform="translate(483.3,60.5) scale(1.0481,1)" font-size="19.14" fill="#b51418" stroke="#b51418" stroke-width="0.3" text-anchor="start" xml:space="preserve">All Events</text>
<path d="M451.0 79.8h8.4M466.5 79.8h6.2M477.2 79.8h3.6" stroke="#0c0c9c" stroke-width="1.7"/><circle cx="466.3" cy="79.8" r="2.3" fill="#fff" stroke="#0c0c9c" stroke-width="1.5"/>
<text transform="translate(482.9,86.0) scale(1.0096,1)" font-size="18.72" fill="#0c0c90" stroke="#0c0c90" stroke-width="0.3" text-anchor="start" xml:space="preserve">r = 0-1</text>
<text transform="translate(65.2,256.6) scale(1.0481,1)" font-size="16.02" fill="#b51418" stroke="#b51418" stroke-width="0.3" text-anchor="start" xml:space="preserve">Slope= -0.360±0.001  R= 0.76</text>
<text transform="translate(64.4,279.7) scale(1.0481,1)" font-size="16.02" fill="#0c0c90" stroke="#0c0c90" stroke-width="0.3" text-anchor="start" xml:space="preserve">Slope= -0.353±0.002  R= 0.79</text>
<text transform="translate(357.0,281.4) scale(1.0673,1)" font-size="17.99" fill="#000" stroke="#000" stroke-width="0.3" text-anchor="start" xml:space="preserve">MC no. 6 (1995 Oct 18-20)</text>
<text transform="translate(65.2,534.4) scale(1.0481,1)" font-size="16.02" fill="#b51418" stroke="#b51418" stroke-width="0.3" text-anchor="start" xml:space="preserve">Slope= -0.330±0.001  R= 0.47</text>
<text transform="translate(64.4,557.9) scale(1.0481,1)" font-size="16.02" fill="#0c0c90" stroke="#0c0c90" stroke-width="0.3" text-anchor="start" xml:space="preserve">Slope= -0.345±0.002  R= 0.48</text>
<text transform="translate(357.0,556.4) scale(1.0673,1)" font-size="17.99" fill="#000" stroke="#000" stroke-width="0.3" text-anchor="start" xml:space="preserve">MC no. 32 (1998 May 2-4)</text>
<text transform="translate(65.2,810.7) scale(1.0481,1)" font-size="16.02" fill="#b51418" stroke="#b51418" stroke-width="0.3" text-anchor="start" xml:space="preserve">Slope= -0.104±0.002  R= 0.19</text>
<text transform="translate(66.1,834.4) scale(1.0481,1)" font-size="16.02" fill="#0c0c90" stroke="#0c0c90" stroke-width="0.3" text-anchor="start" xml:space="preserve">Slope= -0.130±0.003  R= 0.26</text>
<text transform="translate(344.6,830.0) scale(1.0673,1)" font-size="17.99" fill="#000" stroke="#000" stroke-width="0.3" text-anchor="start" xml:space="preserve">MC no. 81 (2004 Aug 29-31)</text>
</svg></body></html>
